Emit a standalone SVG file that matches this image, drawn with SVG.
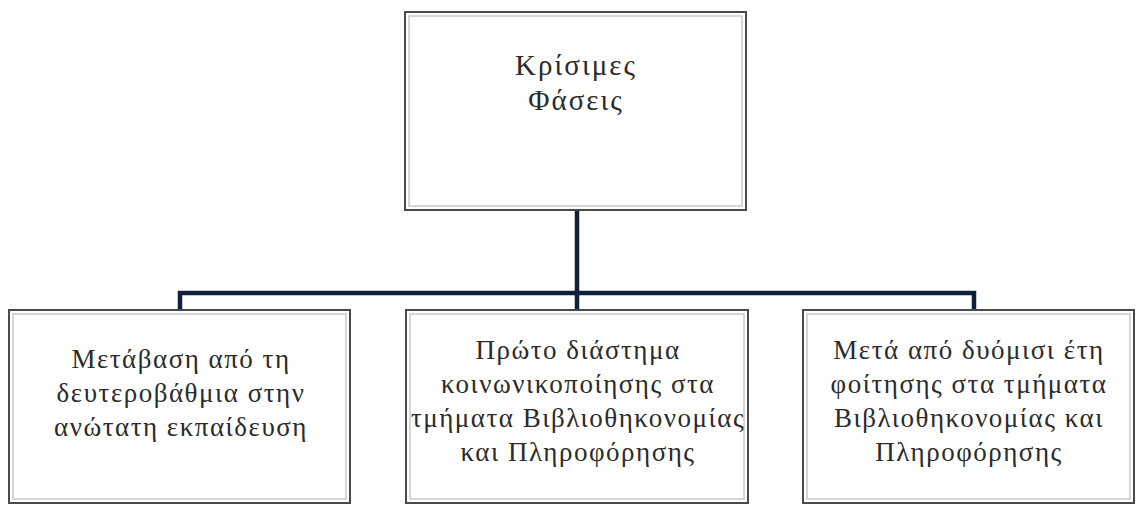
<svg xmlns="http://www.w3.org/2000/svg" width="1137" height="507" viewBox="0 0 1137 507">
<style>
.frame{fill:#ffffff;stroke:#4a4a4a;stroke-width:2}
.inner{fill:none;stroke:#c9c9c9;stroke-width:1.5}
.lbl{font-family:"Liberation Serif","DejaVu Serif",serif;font-size:27px;letter-spacing:1.5px;fill:#2b2b2b;text-anchor:middle}
.big{font-size:29px;letter-spacing:2px}
.conn{fill:none;stroke:#0f1f3d;stroke-width:4.5;stroke-linecap:square}
</style>
<rect width="1137" height="507" fill="#ffffff"/>
<g id="connectors">
<path class="conn" d="M577 211 V293"/>
<path class="conn" d="M180 309 V293 H974 V309"/>
<path class="conn" d="M577 293 V309"/>
</g>
<g id="root">
<rect class="frame" x="405" y="12" width="341" height="198"/>
<rect class="inner" x="409" y="16" width="333" height="190"/>
<text class="lbl big" x="576" y="75">Κρίσιμες</text>
<text class="lbl big" x="576" y="110">Φάσεις</text>
</g>
<g id="phase1">
<rect class="frame" x="9" y="310" width="341" height="193"/>
<rect class="inner" x="13" y="314" width="333" height="185"/>
<text class="lbl" x="181" y="368">Μετάβαση από τη</text>
<text class="lbl" x="181" y="402">δευτεροβάθμια στην</text>
<text class="lbl" x="181" y="436">ανώτατη εκπαίδευση</text>
</g>
<g id="phase2">
<rect class="frame" x="406" y="310" width="342" height="193"/>
<rect class="inner" x="410" y="314" width="334" height="185"/>
<text class="lbl" x="578" y="359">Πρώτο διάστημα</text>
<text class="lbl" x="578" y="393">κοινωνικοποίησης στα</text>
<text class="lbl" x="578" y="427">τμήματα Βιβλιοθηκονομίας</text>
<text class="lbl" x="578" y="461">και Πληροφόρησης</text>
</g>
<g id="phase3">
<rect class="frame" x="803" y="310" width="331" height="193"/>
<rect class="inner" x="807" y="314" width="323" height="185"/>
<text class="lbl" x="969" y="359">Μετά από δυόμισι έτη</text>
<text class="lbl" x="969" y="393">φοίτησης στα τμήματα</text>
<text class="lbl" x="969" y="427">Βιβλιοθηκονομίας και</text>
<text class="lbl" x="969" y="461">Πληροφόρησης</text>
</g>
</svg>
